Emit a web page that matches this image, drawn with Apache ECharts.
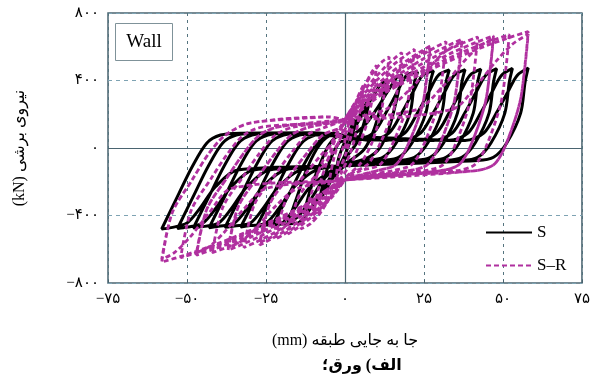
<!DOCTYPE html>
<html>
<head>
<meta charset="utf-8">
<script src="https://cdn.jsdelivr.net/npm/echarts@6/dist/echarts.min.js"></script>
<style>
  html, body { margin: 0; padding: 0; background: #ffffff; }
  #chart { width: 593px; height: 385px; }
</style>
</head>
<body>
<div id="chart"></div>
<script>
// Displacement (mm) / shear force (kN) hysteresis paths, one cycle per array.
// Specimen S (steel plate wall)
const sLoop03 = [[0,0],[1.5,100],[3,170],[2,60],[0,-40],[-1.5,-100],[-3,-170],[-2,-60],[0,40]];
const sLoop08 = [[0,20],[3,130],[6,240],[8,300],[6.5,180],[4,40],[1,-40],[-3,-140],[-6,-250],[-8,-300],[-6.5,-180],[-4,-40],[-1,40]];
const sLoop13 = [[0,40],[4,150],[8,280],[11,370],[13,400],[11.5,260],[9,100],[6,-10],[2,-70],[-3,-130],[-7,-250],[-10,-340],[-13,-390],[-11,-250],[-8,-100],[-5,20],[-2,70]];
const sLoop18 = [[0,60],[6,130],[10,230],[14,350],[16.5,420],[18,435],[16.5,300],[14,120],[11,0],[7,-60],[0,-100],[-6,-170],[-10,-280],[-14,-390],[-16.5,-430],[-18,-440],[-15,-280],[-12,-120],[-8,20],[-4,75]];
const sLoop23 = [[0,70],[3,45],[9,90],[13,210],[16.5,330],[19.5,430],[23,450],[22,390],[20.6,207],[16.2,30],[12,-55],[7,-74],[0,-105],[-6,-230],[-11,-360],[-15,-445],[-20,-450],[-23,-458],[-17.5,-267],[-13.4,-112],[-8.7,30],[-4.4,77]];
const sLoop28 = [[0,70],[8,45],[14,90],[18,210],[21.5,330],[24.5,430],[28,458],[27,390],[25.6,207],[21.2,30],[17,-55],[12,-74],[0,-105],[-4,-130],[-11,-230],[-16,-360],[-20,-445],[-25,-457],[-28,-465],[-22.5,-267],[-18.4,-112],[-13.7,30],[-9.4,77],[-3,88]];
const sLoop33 = [[0,70],[13,45],[19,90],[23,210],[26.5,330],[29.5,430],[33,462],[32,390],[30.6,207],[26.2,30],[22,-55],[17,-74],[0,-105],[-9,-130],[-16,-230],[-21,-360],[-25,-445],[-30,-460],[-33,-468],[-27.5,-267],[-23.4,-112],[-18.7,30],[-14.4,77],[-8,88]];
const sLoop38 = [[0,70],[18,45],[24,90],[28,210],[31.5,330],[34.5,430],[38,465],[37,390],[35.6,207],[31.2,30],[27,-55],[22,-74],[0,-105],[-14,-130],[-21,-230],[-26,-360],[-30,-445],[-35,-462],[-38,-470],[-32.5,-267],[-28.4,-112],[-23.7,30],[-19.4,77],[-13,88]];
const sLoop43 = [[0,70],[23,45],[29,90],[33,210],[36.5,330],[39.5,430],[43,467],[42,390],[40.6,207],[36.2,30],[32,-55],[27,-74],[0,-105],[-19,-130],[-26,-230],[-31,-360],[-35,-445],[-40,-464],[-43,-472],[-37.5,-267],[-33.4,-112],[-28.7,30],[-24.4,77],[-18,88]];
const sLoop48 = [[0,70],[28,45],[34,90],[38,210],[41.5,330],[44.5,430],[48,470],[47,390],[45.6,207],[41.2,30],[37,-55],[32,-74],[0,-105],[-24,-130],[-31,-230],[-36,-360],[-40,-445],[-45,-466],[-48,-474],[-42.5,-267],[-38.4,-112],[-33.7,30],[-29.4,77],[-23,88]];
const sLoop53 = [[0,70],[33,45],[39,90],[43,210],[46.5,330],[49.5,430],[53,472],[52,390],[50.6,207],[46.2,30],[42,-55],[37,-74],[0,-105],[-29,-130],[-36,-230],[-41,-360],[-45,-445],[-50,-469],[-53,-477],[-47.5,-267],[-43.4,-112],[-38.7,30],[-34.4,77],[-28,88]];
const sLoop58 = [[0,70],[38,45],[44,90],[48,210],[51.5,330],[54.5,430],[58,474],[57,390],[55.6,207],[51.2,30],[47,-55],[42,-74],[0,-105],[-34,-130],[-41,-230],[-46,-360],[-50,-445],[-55,-472],[-58,-480],[-52.5,-267],[-48.4,-112],[-43.7,30],[-39.4,77],[-33,88],[-10,90],[0,70]];

// Specimen S-R: first cycles at each amplitude
const rLoop03 = [[0,0],[1.5,120],[3,220],[2,80],[0,-50],[-1.5,-120],[-3,-200],[-2,-70],[0,50]];
const rLoop06 = [[0,60],[2,180],[4,300],[6,380],[5,250],[3.5,90],[1.5,-40],[-1,-140],[-3,-240],[-6,-330],[-5,-200],[-3.5,-60],[-1.5,60]];
const rLoop10 = [[0,110],[3,230],[6,360],[8.5,450],[10,490],[9,330],[7,150],[4.5,20],[2,-90],[-1,-170],[-4,-260],[-7,-350],[-10,-420],[-8.5,-250],[-6,-100],[-3.5,30],[-1,130]];
const rLoop14 = [[0,150],[3,250],[6,360],[9,450],[12,515],[14,540],[13,400],[11.5,220],[8.5,30],[5,-90],[1,-160],[-2,-210],[-5,-300],[-8,-390],[-11,-450],[-14,-480],[-11,-290],[-8,-120],[-4,40],[-1,140]];
const rLoop18 = [[0,170],[3.6,281],[8.1,387],[12.6,478],[15.8,533],[18,565],[17,407],[15.3,220],[10.6,6],[7,-100],[2,-150],[0,-190],[-3.6,-280],[-8.1,-366],[-12.6,-440],[-15.8,-484],[-18,-510],[-14.7,-291],[-8.4,-143],[-4,-30],[-1,77]];
const rLoop22 = [[0,170],[4.4,286],[9.9,398],[15.4,494],[19.4,552],[22,585],[21,421],[19.3,228],[14.6,6],[11,-100],[5,-135],[0,-190],[-4.4,-288],[-9.9,-383],[-15.4,-463],[-19.4,-512],[-22,-540],[-18.7,-308],[-12.4,-151],[-7,-30],[-2,77]];
const rLoop27 = [[0,170],[5.4,292],[12.2,409],[18.9,509],[23.8,570],[27,605],[26,436],[24.3,236],[19.6,6],[16,-100],[10,-135],[0,-190],[-5.4,-298],[-12.2,-402],[-18.9,-490],[-23.8,-544],[-27,-575],[-23.7,-328],[-17.4,-161],[-12,-30],[-7,77],[-1,125]];
const rLoop32 = [[0,170],[6.4,299],[14.4,423],[22.4,529],[28.2,593],[32,630],[31,454],[29.3,246],[24.6,6],[21,-100],[15,-135],[0,-190],[-6.4,-302],[-14.4,-410],[-22.4,-502],[-28.2,-558],[-32,-590],[-28.7,-336],[-22.4,-165],[-17,-30],[-12,77],[-6,125]];
const rLoop37 = [[0,170],[7.4,303],[16.7,431],[25.9,541],[32.6,607],[37,645],[36,464],[34.3,252],[29.6,6],[26,-100],[20,-135],[0,-190],[-7.4,-306],[-16.7,-418],[-25.9,-514],[-32.6,-572],[-37,-605],[-33.7,-345],[-27.4,-169],[-22,-30],[-17,77],[-11,125]];
const rLoop42 = [[0,170],[8.4,307],[18.9,438],[29.4,551],[37,619],[42,658],[41,474],[39.3,257],[34.6,6],[31,-100],[25,-135],[0,-190],[-8.4,-310],[-18.9,-427],[-29.4,-525],[-37,-586],[-42,-620],[-38.7,-353],[-32.4,-174],[-27,-30],[-22,77],[-16,125]];
const rLoop47 = [[0,170],[9.4,309],[21.2,442],[32.9,556],[41.4,625],[47,665],[46,479],[44.3,259],[39.6,6],[36,-100],[30,-135],[0,-190],[-9.4,-315],[-21.2,-435],[-32.9,-537],[-41.4,-599],[-47,-635],[-43.7,-362],[-37.4,-178],[-32,-30],[-27,77],[-21,125]];
const rLoop52 = [[0,170],[10.4,311],[23.4,446],[36.4,562],[45.8,632],[52,672],[51,484],[49.3,262],[44.6,6],[41,-100],[35,-135],[0,-190],[-10.4,-319],[-23.4,-443],[-36.4,-549],[-45.8,-613],[-52,-650],[-48.7,-371],[-42.4,-182],[-37,-30],[-32,77],[-26,125]];
const rLoop58 = [[0,170],[11.6,316],[26.1,456],[40.6,576],[51,648],[58,690],[57,497],[55.3,266],[50.6,6],[47,-100],[41,-135],[0,-190],[-11.6,-326],[-26.1,-457],[-40.6,-569],[-51,-637],[-58,-676],[-54.7,-385],[-48.4,-190],[-43,-30],[-37.8,77],[-30,148],[-5,184]];
// Specimen S-R: repeated cycles (reduced strength)
const rRepeat27 = [[0,170],[3,230],[11,333],[17,454],[22,540],[27,590],[26,430],[24.3,236],[19.6,6],[16,-100],[10,-135],[0,-190],[-5,-240],[-12,-328],[-18,-449],[-23,-525],[-27,-560],[-23.7,-328],[-17.4,-161],[-12,-30],[-7,77],[-1,125]];
const rRepeat37 = [[0,170],[13,230],[21,355],[27,484],[32,575],[37,630],[36,460],[34.3,252],[29.6,6],[26,-100],[20,-135],[0,-190],[-15,-240],[-22,-345],[-28,-472],[-33,-555],[-37,-590],[-33.7,-345],[-27.4,-169],[-22,-30],[-17,77],[-11,125]];
const rRepeat47 = [[0,170],[23,230],[31,366],[37,499],[42,595],[47,650],[46,475],[44.3,259],[39.6,6],[36,-100],[30,-135],[0,-190],[-25,-240],[-32,-362],[-38,-495],[-43,-585],[-47,-620],[-43.7,-362],[-37.4,-178],[-32,-30],[-27,77],[-21,125]];
const rRepeat58 = [[0,170],[34,230],[42,380],[48,518],[53,615],[58,675],[57,490],[55.3,266],[50.6,6],[47,-100],[41,-135],[0,-190],[-36,-240],[-43,-385],[-49,-527],[-54,-620],[-58,-660],[-54.7,-385],[-48.4,-190],[-43,-30],[-37.8,77],[-30,148],[-5,184]];

// Axis tick labels (Persian digits)
const xTickLabels = {'-75': '−۷۵', '-50': '−۵۰', '-25': '−۲۵', '0': '۰', '25': '۲۵', '50': '۵۰', '75': '۷۵'};
const yTickLabels = {'-800': '−۸۰۰', '-400': '−۴۰۰', '0': '۰', '400': '۴۰۰', '800': '۸۰۰'};

const seriesNames = ['S', 'S–R'];
const xTitle = '\u202Bجا به جایی طبقه (mm)\u202C';
const yTitle = '\u202Bنیروی برشی (kN)\u202C';
const caption = '\u202Bالف) ورق؛\u202C';
const panelLabel = 'Wall';

const sPath = [].concat(sLoop03, sLoop08, sLoop13, sLoop18, sLoop23, sLoop28, sLoop33, sLoop38, sLoop43, sLoop48, sLoop53, sLoop58);
const rPath = [].concat(rLoop03, rLoop06, rLoop10, rLoop14, rLoop18, rLoop22, rLoop27, rRepeat27, rLoop32,
  rLoop37, rRepeat37, rLoop42, rLoop47, rRepeat47, rLoop52, rLoop58, rRepeat58);

const serifFont = '"Liberation Serif", "DejaVu Sans", serif';
const frameColor = '#4a6470';
const magenta = '#b0309f';

const chart = echarts.init(document.getElementById('chart'), null, { renderer: 'canvas' });
chart.setOption({
  animation: false,
  backgroundColor: '#ffffff',
  grid: { left: 108, right: 7, top: 13, bottom: 102, show: true, borderColor: frameColor, borderWidth: 1.5, backgroundColor: 'transparent' },
  legend: {
    orient: 'vertical',
    left: 480,
    top: 219,
    itemWidth: 46,
    itemHeight: 12,
    itemGap: 16,
    itemStyle: { opacity: 0 },
    textStyle: { fontFamily: serifFont, fontSize: 17, color: '#000' },
    data: seriesNames
  },
  xAxis: {
    type: 'value',
    min: -75, max: 75, interval: 25,
    name: xTitle,
    nameLocation: 'middle',
    nameGap: 50,
    nameTextStyle: { fontFamily: serifFont, fontSize: 16, color: '#000' },
    axisLine: { show: false, onZero: false },
    axisTick: { show: true, inside: true, length: 3, lineStyle: { color: frameColor } },
    axisLabel: { margin: 9, fontFamily: serifFont, fontSize: 15, color: '#000', formatter: v => xTickLabels[String(v)] },
    splitLine: { show: true, lineStyle: { color: '#55747f', type: [3, 4], width: 1 } }
  },
  yAxis: {
    type: 'value',
    min: -800, max: 800, interval: 400,
    name: yTitle,
    nameLocation: 'middle',
    nameGap: 80,
    nameRotate: 90,
    nameTextStyle: { fontFamily: serifFont, fontSize: 16, color: '#000' },
    axisLine: { show: false, onZero: false },
    axisTick: { show: false },
    axisLabel: { margin: 9, fontFamily: serifFont, fontSize: 15, color: '#000', formatter: v => yTickLabels[String(v)] },
    splitLine: { show: true, lineStyle: { color: '#7ea3b3', type: [4, 4], width: 1 } }
  },
  graphic: [
    {
      type: 'group', left: 115, top: 23,
      children: [
        { type: 'rect', shape: { x: 0, y: 0, width: 57, height: 37 }, style: { fill: '#fff', stroke: '#7f9299', lineWidth: 1 } },
        { type: 'text', x: 28.5, y: 18.5, style: { text: panelLabel, font: '19px "Liberation Serif", serif', fill: '#000', align: 'center', verticalAlign: 'middle' } }
      ]
    },
    {
      type: 'text', left: 322, top: 358,
      style: { text: caption, font: 'bold 16px "Liberation Serif", "DejaVu Sans", serif', fill: '#000' }
    }
  ],
  series: [
    {
      name: seriesNames[0],
      type: 'line',
      data: sPath,
      symbol: 'none',
      smooth: 0.3,
      lineStyle: { color: '#000000', width: 3 },
      itemStyle: { color: '#000000' },
      z: 2,
      markLine: {
        silent: true,
        symbol: 'none',
        label: { show: false },
        lineStyle: { color: frameColor, type: 'solid', width: 1.2 },
        data: [{ xAxis: 0 }, { yAxis: 0 }],
        z: 1
      }
    },
    {
      name: seriesNames[1],
      type: 'line',
      data: rPath,
      symbol: 'none',
      smooth: 0.3,
      lineStyle: { color: magenta, width: 2.8, type: [5, 3] },
      itemStyle: { color: magenta },
      z: 3
    }
  ]
});
</script>
</body>
</html>
